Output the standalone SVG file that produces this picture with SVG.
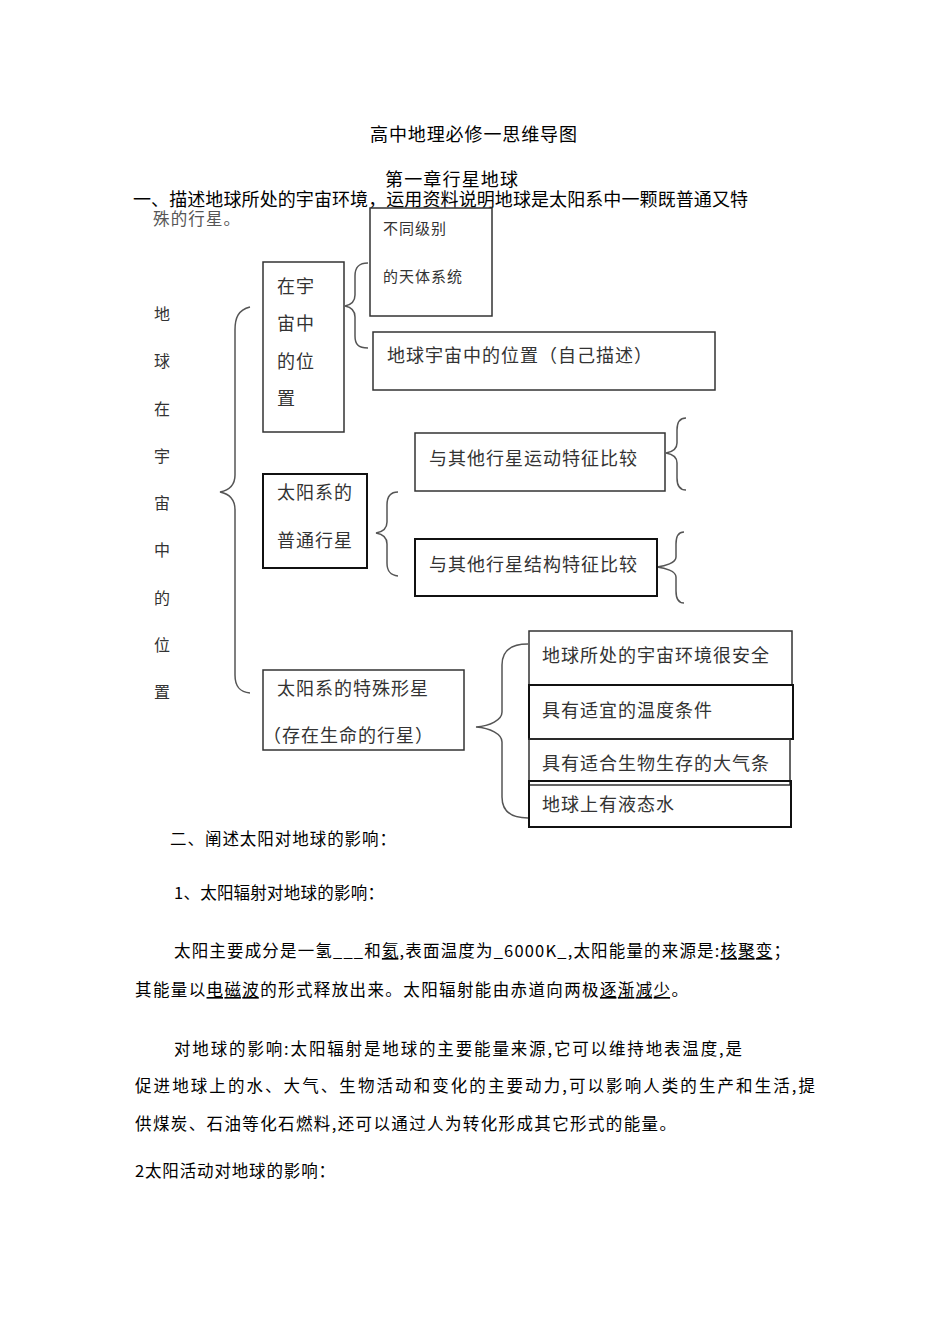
<svg xmlns="http://www.w3.org/2000/svg" width="950" height="1344" viewBox="0 0 950 1344">
<style>
text{font-family:"Noto Sans CJK SC","Liberation Sans",sans-serif;}
.h{font-size:18px;fill:#000;}
.p{font-size:16.5px;fill:#000;}
.b{font-size:18px;fill:#333;letter-spacing:1px;}
.s{font-size:15px;fill:#333;letter-spacing:1px;}
.v{font-size:16px;fill:#333;}
.box{fill:none;stroke:#333;stroke-width:1.5;}
.bk{fill:none;stroke:#111;stroke-width:2;}
.br{fill:none;stroke:#555;stroke-width:1.5;}
.u{text-decoration:underline;}
</style>
<rect width="950" height="1344" fill="#fff"/>
<g id="header">
<text class="h" x="370" y="141" textLength="207">高中地理必修一思维导图</text>
<text class="h" x="385" y="186" font-size="17.5" textLength="133">第一章行星地球</text>
<text class="h" x="133" y="206" font-size="16.5" textLength="615">一、描述地球所处的宇宙环境，运用资料说明地球是太阳系中一颗既普通又特</text>
<text x="153" y="225" font-size="16.5" fill="#555" textLength="87">殊的行星。</text>
</g>
<g id="vertical-label">
<text class="v" x="154" y="320">地</text>
<text class="v" x="154" y="367">球</text>
<text class="v" x="154" y="415">在</text>
<text class="v" x="154" y="462">宇</text>
<text class="v" x="154" y="509">宙</text>
<text class="v" x="154" y="556">中</text>
<text class="v" x="154" y="604">的</text>
<text class="v" x="154" y="651">位</text>
<text class="v" x="154" y="698">置</text>
</g>
<g id="connectors">
<path class="br" d="M250,307 C238,310 235,318 235,330 L235,475 C235,485 230,490 220,492 C230,494 235,500 235,510 L235,675 C235,687 240,692 250,693"/>
<path class="br" d="M368,263 C358,263 355,268 355,276 L355,295 C355,302 350,305 345,306 C350,307 355,310 355,317 L355,336 C355,344 358,348 368,348"/>
<path class="br" d="M398,492 C390,492 387,497 387,505 L387,522 C387,529 382,532 376,533 C382,534 387,537 387,544 L387,563 C387,571 390,575 398,576"/>
<path class="br" d="M686,418 C680,418 677,422 677,430 L677,443 C677,449 672,452 666,453 C672,454 677,457 677,463 L677,478 C677,486 680,490 686,490"/>
<path class="br" d="M684,532 C679,532 676,536 676,544 L676,557 C676,563 665,566 657,567 C665,568 676,571 676,577 L676,591 C676,599 679,603 684,603"/>
<path class="br" d="M528,644 C510,644 502,652 502,665 L502,712 C502,720 490,726 476,727 C490,728 502,734 502,742 L502,797 C502,810 510,818 528,818"/>
</g>
<g id="node-tianti">
<rect class="box" x="370" y="208" width="122" height="108"/>
<text class="s" x="383" y="234">不同级别</text>
<text class="s" x="383" y="282">的天体系统</text>
</g>
<g id="node-weizhi">
<rect class="box" x="263" y="262" width="81" height="170"/>
<text class="b" x="277" y="293">在宇</text>
<text class="b" x="277" y="330">宙中</text>
<text class="b" x="277" y="368">的位</text>
<text class="b" x="277" y="405">置</text>
</g>
<g id="node-ziji">
<rect class="box" x="373" y="332" width="342" height="58"/>
<text class="b" x="387" y="362">地球宇宙中的位置（自己描述）</text>
</g>
<g id="node-putong">
<rect class="bk" x="263" y="474" width="104" height="94"/>
<text class="b" x="277" y="499">太阳系的</text>
<text class="b" x="277" y="547">普通行星</text>
</g>
<g id="node-yundong">
<rect class="box" x="415" y="433" width="250" height="58"/>
<text class="b" x="429" y="465">与其他行星运动特征比较</text>
</g>
<g id="node-jiegou">
<rect class="bk" x="415" y="539" width="242" height="57"/>
<text class="b" x="429" y="571">与其他行星结构特征比较</text>
</g>
<g id="node-teshu">
<rect class="box" x="263" y="670" width="201" height="80"/>
<text class="b" x="277" y="695">太阳系的特殊形星</text>
<text class="b" x="263" y="742">（存在生命的行星）</text>
</g>
<g id="node-anquan">
<rect class="box" x="529" y="631" width="263" height="54"/>
<text class="b" x="542" y="662">地球所处的宇宙环境很安全</text>
</g>
<g id="node-wendu">
<rect class="bk" x="529" y="685" width="264" height="54"/>
<text class="b" x="542" y="717">具有适宜的温度条件</text>
</g>
<g id="node-daqi">
<rect class="box" x="529" y="739" width="261" height="46"/>
<text class="b" x="542" y="770">具有适合生物生存的大气条</text>
</g>
<g id="node-shui">
<rect class="bk" x="529" y="781" width="262" height="46"/>
<text class="b" x="542" y="811">地球上有液态水</text>
</g>
<g id="body">
<text class="p" x="170" y="845" textLength="226">二、阐述太阳对地球的影响：</text>
<text class="p" x="174" y="899" textLength="210">1、太阳辐射对地球的影响：</text>
<text class="p" x="174" y="957" textLength="616">太阳主要成分是一氢___和<tspan class="u">氦</tspan>,表面温度为_6000K_,太阳能量的来源是:<tspan class="u">核聚变</tspan>；</text>
<text class="p" x="135" y="996" textLength="553">其能量以<tspan class="u">电磁波</tspan>的形式释放出来。太阳辐射能由赤道向两极<tspan class="u">逐渐减少</tspan>。</text>
<text class="p" x="174" y="1055" textLength="568">对地球的影响:太阳辐射是地球的主要能量来源,它可以维持地表温度,是</text>
<text class="p" x="135" y="1092" textLength="680">促进地球上的水、大气、生物活动和变化的主要动力,可以影响人类的生产和生活,提</text>
<text class="p" x="135" y="1130" textLength="541">供煤炭、石油等化石燃料,还可以通过人为转化形成其它形式的能量。</text>
<text class="p" x="135" y="1177" textLength="200">2太阳活动对地球的影响：</text>
</g>
</svg>
